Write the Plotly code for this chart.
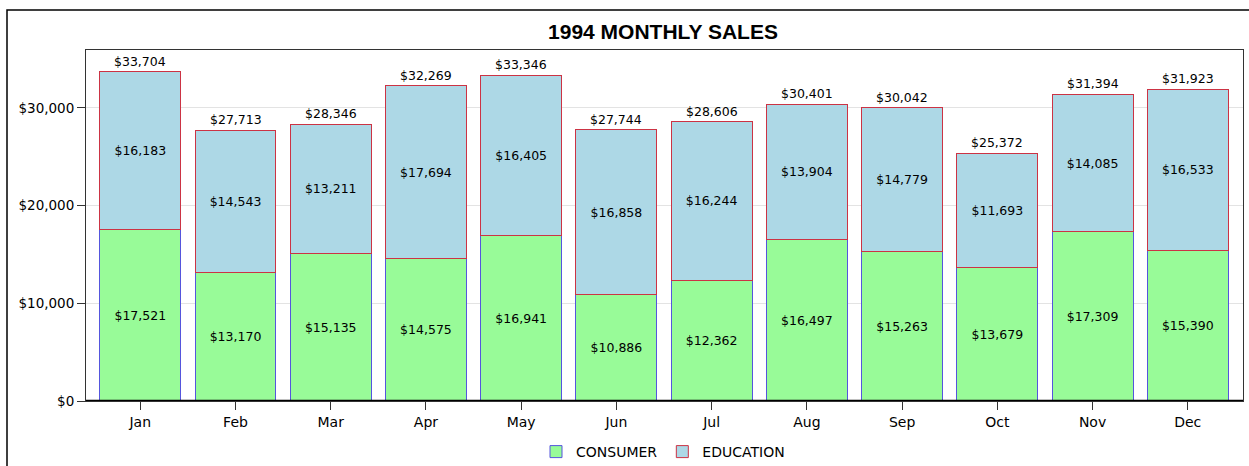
import plotly.graph_objects as go

months = ["Jan", "Feb", "Mar", "Apr", "May", "Jun", "Jul", "Aug", "Sep", "Oct", "Nov", "Dec"]
consumer = [17521, 13170, 15135, 14575, 16941, 10886, 12362, 16497, 15263, 13679, 17309, 15390]
education = [16183, 14543, 13211, 17694, 16405, 16858, 16244, 13904, 14779, 11693, 14085, 16533]
totals = [c + e for c, e in zip(consumer, education)]
y_ticks = [0, 10000, 20000, 30000]
y_tick_labels = ["$0", "$10,000", "$20,000", "$30,000"]

FONT = "DejaVu Sans"

fig = go.Figure()
fig.add_trace(go.Bar(
    x=months, y=consumer, name="CONSUMER",
    marker=dict(color="#98FB98", line=dict(color="#5555DD", width=1)),
    text=[f"${v:,}" for v in consumer], textposition="inside",
    insidetextanchor="middle", textfont=dict(family=FONT, size=12.5, color="black"),
    width=0.85,
))
fig.add_trace(go.Bar(
    x=months, y=education, name="EDUCATION",
    marker=dict(color="#ADD8E6", line=dict(color="#CC3344", width=1)),
    text=[f"${v:,}" for v in education], textposition="inside",
    insidetextanchor="middle", textfont=dict(family=FONT, size=12.5, color="black"),
    width=0.85,
))

annotations = [
    dict(x=m, y=t, xref="x", yref="y", text=f"${t:,}", showarrow=False,
         yanchor="bottom", yshift=1, font=dict(family=FONT, size=12.5, color="black"))
    for m, t in zip(months, totals)
]

W, H = 1249, 466
L, R, T, B = 86, 6, 50, 65
pw, ph = W - L - R, H - T - B

def px(x):
    return (x - L) / pw

def py(y):
    return (H - B - y) / ph

fig.update_layout(
    width=W, height=H,
    margin=dict(l=L, r=R, t=T, b=B, autoexpand=False),
    barmode="stack",
    plot_bgcolor="white", paper_bgcolor="white",
    font=dict(family=FONT, size=13, color="black"),
    title=dict(text="<b>1994 MONTHLY SALES</b>", x=663 / W, xanchor="center",
               y=1 - 32 / H, yanchor="middle",
               font=dict(family="Liberation Sans", size=21, color="black")),
    legend=dict(orientation="h", x=px(663), xanchor="center", y=py(452), yanchor="middle",
                font=dict(family=FONT, size=14), traceorder="normal",
                itemwidth=30, tracegroupgap=0),
    annotations=annotations,
    xaxis=dict(range=[-0.57, 11.58], showline=True, linecolor="#333333", linewidth=1,
               mirror=True, ticks="outside", ticklen=8, tickcolor="#333333",
               tickfont=dict(family=FONT, size=14), showgrid=False),
    yaxis=dict(range=[0, 35930], showline=True, linecolor="#333333", linewidth=1,
               mirror=True, ticks="outside", ticklen=8, tickcolor="#333333",
               tickmode="array", tickvals=y_ticks, ticktext=y_tick_labels,
               tickfont=dict(family=FONT, size=13.5),
               showgrid=True, gridcolor="#E3E3E3", gridwidth=1, zeroline=False),
    shapes=[
        dict(type="rect", xref="paper", yref="paper",
             x0=px(7), x1=px(1252), y0=py(475), y1=py(10),
             line=dict(color="black", width=1.5), layer="below"),
        dict(type="line", xref="paper", yref="y", x0=0, x1=1, y0=0, y1=0,
             line=dict(color="black", width=2.5)),
    ],
)

fig.write_html("out.html")
